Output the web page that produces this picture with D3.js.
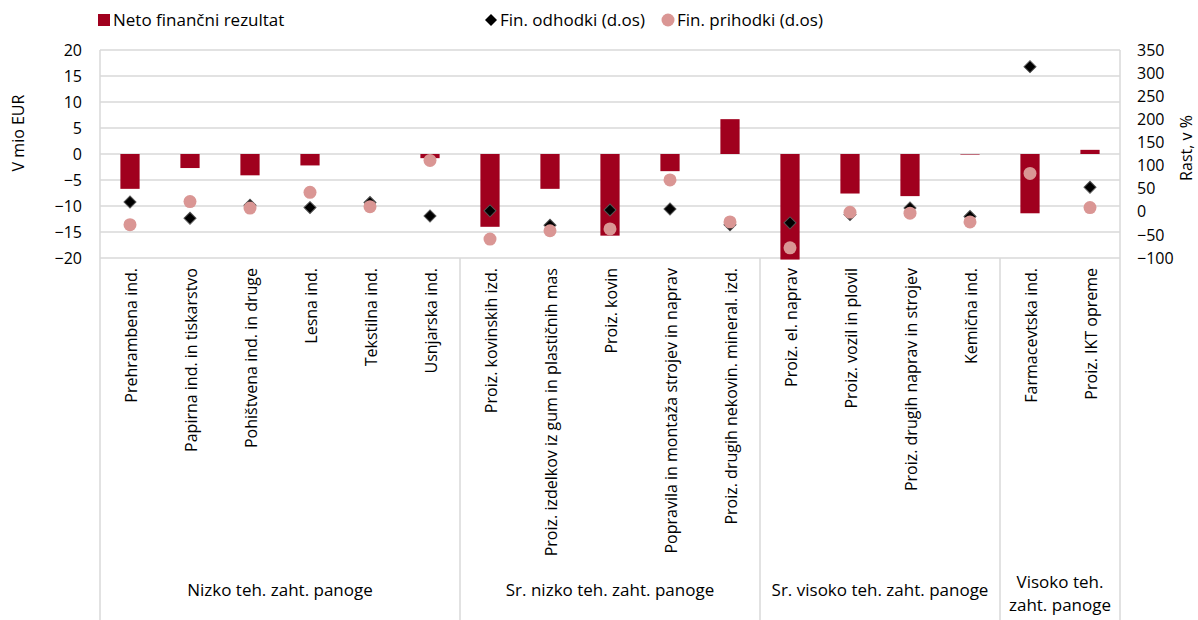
<!DOCTYPE html>
<html>
<head>
<meta charset="utf-8">
<script src="https://cdn.jsdelivr.net/npm/d3@7"></script>
<style>
  body { margin: 0; background: #fff; }
  text { font-family: "Open Sans", "Noto Sans", sans-serif; fill: #000; }
</style>
</head>
<body>
<div id="viz"></div>
<script>
// categories (industries)
const categories = [
    "Prehrambena ind.", "Papirna ind. in tiskarstvo", "Pohištvena ind. in druge", "Lesna ind.",
    "Tekstilna ind.", "Usnjarska ind.",
    "Proiz. kovinskih izd.", "Proiz. izdelkov iz gum in plastičnih mas", "Proiz. kovin",
    "Popravila in montaža strojev in naprav", "Proiz. drugih nekovin. mineral. izd.",
    "Proiz. el. naprav", "Proiz. vozil in plovil", "Proiz. drugih naprav in strojev", "Kemična ind.",
    "Farmacevtska ind.", "Proiz. IKT opreme"
]
// Neto finančni rezultat, mio EUR (left axis)
const netoRezultat = [-6.7, -2.7, -4.1, -2.2, 0, -0.8, -14.0, -6.7, -15.7, -3.3, 6.7, -20.3, -7.6, -8.1, -0.1, -11.4, 0.8]
// Fin. odhodki, rast v % (right axis)
const finOdhodki = [21, -14, 14, 9, 20, -9, 2, -29, 4, 6, -28, -24, -6, 8, -10, 314, 53]
// Fin. prihodki, rast v % (right axis)
const finPrihodki = [-28, 22, 8, 42, 11, 111, -59, -41, -37, 69, -22, -78, -1, -3, -22, 83, 9]
// groups
const groupNames = [["Nizko teh. zaht. panoge"], ["Sr. nizko teh. zaht. panoge"], ["Sr. visoko teh. zaht. panoge"], ["Visoko teh.", "zaht. panoge"]]
const groupSizes = [6, 5, 4, 2]
// ticks
const leftTicks = [-20, -15, -10, -5, 0, 5, 10, 15, 20]
const rightTicks = [-100, -50, 0, 50, 100, 150, 200, 250, 300, 350]

const width = 1198
const height = 620
const m = { left: 100, right: 1120, top: 50, bottom: 258 }

const svg = d3.select("#viz").append("svg")
    .attr("width", width)
    .attr("height", height)

const x = d3.scaleBand()
    .domain(categories)
    .range([m.left, m.right])
    .paddingInner(0.68)
    .paddingOuter(0.34)

const y = d3.scaleLinear().domain([-20, 20]).range([m.bottom, m.top])
const y2 = d3.scaleLinear().domain([-100, 350]).range([m.bottom, m.top])

const gridColor = "#d9d9d9"

// gridlines
svg.append("g").selectAll("line")
    .data(leftTicks)
    .join("line")
    .attr("x1", m.left)
    .attr("x2", m.right)
    .attr("y1", d => y(d))
    .attr("y2", d => y(d))
    .attr("stroke", gridColor)
    .attr("stroke-width", 1.5)

// left axis labels
const yAxis = d3.axisLeft(y).tickValues(leftTicks).tickSize(0).tickPadding(0)
svg.append("g")
    .attr("transform", `translate(${m.left - 18},0)`)
    .call(yAxis)
    .call(g => g.select(".domain").remove())
    .call(g => g.selectAll("text").style("font-size", "16px").attr("fill", "#000"))

// right axis labels
const y2Axis = d3.axisRight(y2).tickValues(rightTicks).tickSize(0).tickPadding(0)
svg.append("g")
    .attr("transform", `translate(${m.right + 17},0)`)
    .call(y2Axis)
    .call(g => g.select(".domain").remove())
    .call(g => g.selectAll("text").style("font-size", "16px").attr("fill", "#000"))

// axis titles
svg.append("text")
    .attr("transform", "translate(24,133) rotate(-90)")
    .attr("text-anchor", "middle")
    .style("font-size", "16px")
    .text("V mio EUR")

svg.append("text")
    .attr("transform", "translate(1192,148) rotate(-90)")
    .attr("text-anchor", "middle")
    .style("font-size", "16px")
    .text("Rast, v %")

// bars
svg.append("g").selectAll("rect")
    .data(categories)
    .join("rect")
    .attr("x", d => x(d))
    .attr("width", x.bandwidth())
    .attr("y", (d, i) => y(Math.max(0, netoRezultat[i])))
    .attr("height", (d, i) => Math.abs(y(netoRezultat[i]) - y(0)))
    .attr("fill", "#a0001e")

// diamonds (Fin. odhodki)
const diamond = d3.symbol().type(d3.symbolSquare).size(72)
svg.append("g").selectAll("path")
    .data(categories)
    .join("path")
    .attr("d", diamond)
    .attr("transform", (d, i) => `translate(${x(d) + x.bandwidth() / 2},${y2(finOdhodki[i])}) rotate(45)`)
    .attr("fill", "#000")
    .attr("stroke", "#555")
    .attr("stroke-width", 1)

// circles (Fin. prihodki)
svg.append("g").selectAll("circle")
    .data(categories)
    .join("circle")
    .attr("cx", d => x(d) + x.bandwidth() / 2)
    .attr("cy", (d, i) => y2(finPrihodki[i]))
    .attr("r", 6.5)
    .attr("fill", "#da9694")

// plot frame sides
svg.append("line")
    .attr("x1", m.left).attr("x2", m.left)
    .attr("y1", m.top).attr("y2", height)
    .attr("stroke", gridColor).attr("stroke-width", 1.5)
svg.append("line")
    .attr("x1", m.right).attr("x2", m.right)
    .attr("y1", m.top).attr("y2", height)
    .attr("stroke", gridColor).attr("stroke-width", 1.5)

// category labels
svg.append("g").selectAll("text")
    .data(categories)
    .join("text")
    .attr("transform", d => `translate(${x(d) + x.bandwidth() / 2 + 1},268) rotate(-90)`)
    .attr("text-anchor", "end")
    .attr("dy", "0.35em")
    .style("font-size", "16px")
    .text(d => d)

// group separators and labels
const step = x.step()
let start = 0
groupSizes.forEach((n, gi) => {
    const x0 = x(categories[start]) - step * x.paddingOuter()
    const x1 = x0 + n * step
    if (gi > 0) {
        svg.append("line")
            .attr("x1", x0).attr("x2", x0)
            .attr("y1", m.bottom).attr("y2", height)
            .attr("stroke", gridColor).attr("stroke-width", 1.5)
    }
    const lines = groupNames[gi]
    const t = svg.append("text")
        .attr("text-anchor", "middle")
        .style("font-size", "17px")
    lines.forEach((l, li) => {
        t.append("tspan")
            .attr("x", (x0 + x1) / 2)
            .attr("y", lines.length > 1 ? 588 + li * 23 : 596)
            .text(l)
    })
    start += n
})

// legend
const legend = svg.append("g")
legend.append("rect")
    .attr("x", 98).attr("y", 14)
    .attr("width", 12).attr("height", 12)
    .attr("fill", "#a0001e")
legend.append("text")
    .attr("x", 113).attr("y", 20)
    .attr("dy", "0.35em")
    .style("font-size", "17px")
    .text("Neto finančni rezultat")

legend.append("path")
    .attr("d", diamond)
    .attr("transform", "translate(491,20) rotate(45)")
    .attr("fill", "#000")
legend.append("text")
    .attr("x", 500).attr("y", 20)
    .attr("dy", "0.35em")
    .style("font-size", "17px")
    .text("Fin. odhodki (d.os)")

legend.append("circle")
    .attr("cx", 668).attr("cy", 20)
    .attr("r", 6.5)
    .attr("fill", "#da9694")
legend.append("text")
    .attr("x", 677).attr("y", 20)
    .attr("dy", "0.35em")
    .style("font-size", "17px")
    .text("Fin. prihodki (d.os)")
</script>
</body>
</html>
